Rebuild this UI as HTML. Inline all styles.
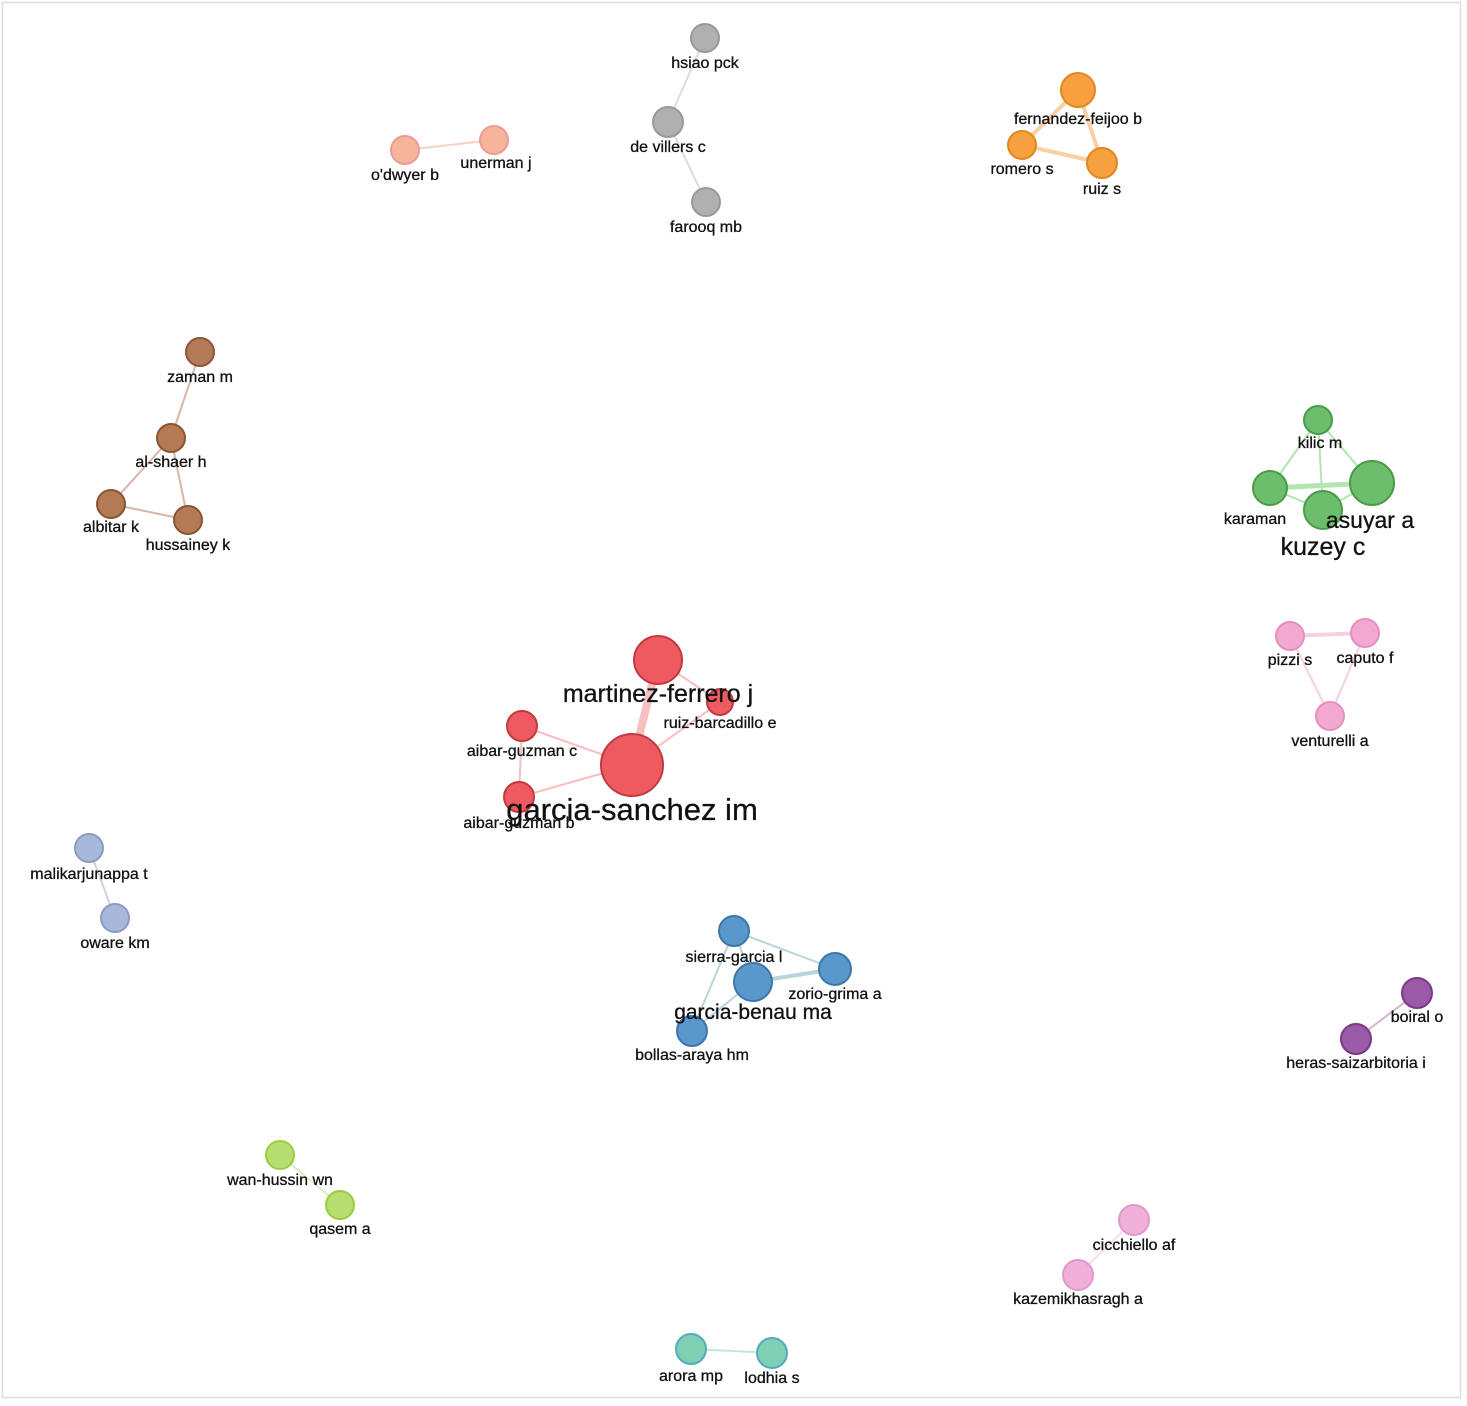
<!DOCTYPE html>
<html><head><meta charset="utf-8"><style>
html,body{margin:0;padding:0;background:#fff}
svg{display:block}
text{font-family:"Liberation Sans",sans-serif;fill:#111;text-anchor:middle;font-size:16px;stroke:#111;stroke-width:0.3}
circle{stroke-width:2}
</style></head><body>
<svg width="1467" height="1406" viewBox="0 0 1467 1406">
<rect x="2.5" y="2.5" width="1458" height="1395" fill="#fff" stroke="#ddd" stroke-width="1.5"/>
<g stroke-width="2" opacity="0.5">
<line x1="705" y1="38" x2="668" y2="122" stroke="#bbb"/>
<line x1="668" y1="122" x2="706" y2="202" stroke="#bbb"/>
<line x1="405" y1="150" x2="494" y2="140" stroke="#f0a890"/>
<line x1="1078" y1="90" x2="1022" y2="145" stroke="#f5a050" stroke-width="4"/>
<line x1="1078" y1="90" x2="1102" y2="163" stroke="#f5a050" stroke-width="4"/>
<line x1="1022" y1="145" x2="1102" y2="163" stroke="#f5a050" stroke-width="4"/>
<line x1="200" y1="352" x2="171" y2="438" stroke="#b07050"/>
<line x1="171" y1="438" x2="111" y2="504" stroke="#b07050"/>
<line x1="171" y1="438" x2="188" y2="520" stroke="#b07050"/>
<line x1="111" y1="504" x2="188" y2="520" stroke="#b07050"/>
<line x1="1318" y1="420" x2="1270" y2="488" stroke="#6c6"/>
<line x1="1318" y1="420" x2="1372" y2="483" stroke="#6c6"/>
<line x1="1318" y1="420" x2="1323" y2="510" stroke="#6c6"/>
<line x1="1270" y1="488" x2="1372" y2="483" stroke="#6c6" stroke-width="5"/>
<line x1="1270" y1="488" x2="1323" y2="510" stroke="#6c6"/>
<line x1="1372" y1="483" x2="1323" y2="510" stroke="#6c6"/>
<line x1="1290" y1="636" x2="1365" y2="633" stroke="#f0a0c8" stroke-width="4"/>
<line x1="1290" y1="636" x2="1330" y2="716" stroke="#f0a0c8"/>
<line x1="1365" y1="633" x2="1330" y2="716" stroke="#f0a0c8"/>
<line x1="658" y1="660" x2="632" y2="765" stroke="#f08080" stroke-width="8"/>
<line x1="658" y1="660" x2="720" y2="702" stroke="#f08080"/>
<line x1="632" y1="765" x2="720" y2="702" stroke="#f08080"/>
<line x1="522" y1="726" x2="632" y2="765" stroke="#f08080"/>
<line x1="519" y1="797" x2="632" y2="765" stroke="#f08080"/>
<line x1="522" y1="726" x2="519" y2="797" stroke="#f08080"/>
<line x1="89" y1="848" x2="115" y2="918" stroke="#9ab"/>
<line x1="734" y1="931" x2="753" y2="982" stroke="#7ab"/>
<line x1="753" y1="982" x2="835" y2="969" stroke="#7ab" stroke-width="4"/>
<line x1="734" y1="931" x2="835" y2="969" stroke="#7ab"/>
<line x1="734" y1="931" x2="692" y2="1031" stroke="#7ab"/>
<line x1="753" y1="982" x2="692" y2="1031" stroke="#7ab"/>
<line x1="1417" y1="993" x2="1356" y2="1039" stroke="#a6a"/>
<line x1="280" y1="1155" x2="340" y2="1205" stroke="#bd8"/>
<line x1="1134" y1="1220" x2="1078" y2="1275" stroke="#ebd"/>
<line x1="691" y1="1349" x2="772" y2="1353" stroke="#8cb"/>
</g>
<g>
<circle cx="705" cy="38" r="14" fill="#b0b0b0" stroke="#999"/>
<circle cx="668" cy="122" r="15" fill="#b0b0b0" stroke="#999"/>
<circle cx="706" cy="202" r="14" fill="#b0b0b0" stroke="#999"/>
<circle cx="405" cy="150" r="14" fill="#f6b49a" stroke="#e99"/>
<circle cx="494" cy="140" r="14" fill="#f6b49a" stroke="#e99"/>
<circle cx="1078" cy="90" r="17" fill="#f7a040" stroke="#e08820"/>
<circle cx="1022" cy="145" r="14" fill="#f7a040" stroke="#e08820"/>
<circle cx="1102" cy="163" r="15" fill="#f7a040" stroke="#e08820"/>
<circle cx="200" cy="352" r="14" fill="#b47a55" stroke="#8a5535"/>
<circle cx="171" cy="438" r="14" fill="#b47a55" stroke="#8a5535"/>
<circle cx="111" cy="504" r="14" fill="#b47a55" stroke="#8a5535"/>
<circle cx="188" cy="520" r="14" fill="#b47a55" stroke="#8a5535"/>
<circle cx="1318" cy="420" r="14" fill="#6cbd6c" stroke="#4a9a4a"/>
<circle cx="1270" cy="488" r="17" fill="#6cbd6c" stroke="#4a9a4a"/>
<circle cx="1372" cy="483" r="22" fill="#6cbd6c" stroke="#4a9a4a"/>
<circle cx="1323" cy="510" r="19" fill="#6cbd6c" stroke="#4a9a4a"/>
<circle cx="1290" cy="636" r="14" fill="#f3a8d2" stroke="#e38fbf"/>
<circle cx="1365" cy="633" r="14" fill="#f3a8d2" stroke="#e38fbf"/>
<circle cx="1330" cy="716" r="14" fill="#f3a8d2" stroke="#e38fbf"/>
<circle cx="658" cy="660" r="24" fill="#ee5a60" stroke="#c03a40"/>
<circle cx="720" cy="702" r="13" fill="#ee5a60" stroke="#c03a40"/>
<circle cx="522" cy="726" r="15" fill="#ee5a60" stroke="#c03a40"/>
<circle cx="632" cy="765" r="31" fill="#ee5a60" stroke="#c03a40"/>
<circle cx="519" cy="797" r="15" fill="#ee5a60" stroke="#c03a40"/>
<circle cx="89" cy="848" r="14" fill="#a8b8dc" stroke="#8a9ac0"/>
<circle cx="115" cy="918" r="14" fill="#a8b8dc" stroke="#8a9ac0"/>
<circle cx="734" cy="931" r="15" fill="#5a98cc" stroke="#3a78ac"/>
<circle cx="753" cy="982" r="19" fill="#5a98cc" stroke="#3a78ac"/>
<circle cx="835" cy="969" r="16" fill="#5a98cc" stroke="#3a78ac"/>
<circle cx="692" cy="1031" r="15" fill="#5a98cc" stroke="#3a78ac"/>
<circle cx="1417" cy="993" r="15" fill="#9a5aa8" stroke="#7a3a88"/>
<circle cx="1356" cy="1039" r="15" fill="#9a5aa8" stroke="#7a3a88"/>
<circle cx="280" cy="1155" r="14" fill="#b6de70" stroke="#9c4"/>
<circle cx="340" cy="1205" r="14" fill="#b6de70" stroke="#9c4"/>
<circle cx="1134" cy="1220" r="15" fill="#f0b0da" stroke="#d9c"/>
<circle cx="1078" cy="1275" r="15" fill="#f0b0da" stroke="#d9c"/>
<circle cx="691" cy="1349" r="15" fill="#7ecfb4" stroke="#5ab"/>
<circle cx="772" cy="1353" r="15" fill="#7ecfb4" stroke="#5ab"/>
</g>
<g>
<text x="705" y="68">hsiao pck</text>
<text x="668" y="152">de villers c</text>
<text x="706" y="232">farooq mb</text>
<text x="405" y="180">o'dwyer b</text>
<text x="496" y="168">unerman j</text>
<text x="1078" y="124">fernandez-feijoo b</text>
<text x="1022" y="174">romero s</text>
<text x="1102" y="194">ruiz s</text>
<text x="200" y="382">zaman m</text>
<text x="171" y="467">al-shaer h</text>
<text x="111" y="532">albitar k</text>
<text x="188" y="550">hussainey k</text>
<text x="1320" y="448">kilic m</text>
<text x="1255" y="524">karaman</text>
<text x="1370" y="528" style="font-size:23px">asuyar a</text>
<text x="1323" y="555" style="font-size:25px">kuzey c</text>
<text x="1290" y="665">pizzi s</text>
<text x="1365" y="663">caputo f</text>
<text x="1330" y="746">venturelli a</text>
<text x="658" y="702" style="font-size:25px">martinez-ferrero j</text>
<text x="720" y="728">ruiz-barcadillo e</text>
<text x="522" y="756">aibar-guzman c</text>
<text x="519" y="828">aibar-guzman b</text>
<text x="632" y="820" style="font-size:31px">garcia-sanchez im</text>
<text x="89" y="879">malikarjunappa t</text>
<text x="115" y="948">oware km</text>
<text x="734" y="962">sierra-garcia l</text>
<text x="753" y="1019" style="font-size:21px">garcia-benau ma</text>
<text x="835" y="999">zorio-grima a</text>
<text x="692" y="1060">bollas-araya hm</text>
<text x="1417" y="1022">boiral o</text>
<text x="1356" y="1068">heras-saizarbitoria i</text>
<text x="280" y="1185">wan-hussin wn</text>
<text x="340" y="1234">qasem a</text>
<text x="1134" y="1250">cicchiello af</text>
<text x="1078" y="1304">kazemikhasragh a</text>
<text x="691" y="1381">arora mp</text>
<text x="772" y="1383">lodhia s</text>
</g>
</svg>
</body></html>
